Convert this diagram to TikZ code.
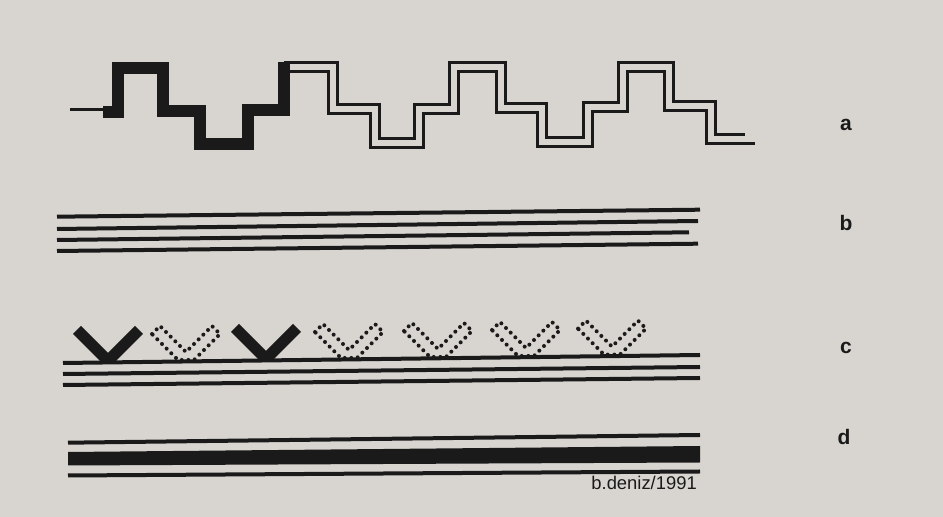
\documentclass[tikz,border=0pt]{standalone}
\usepackage{fontspec}
\newfontfamily\labfont{Liberation Sans}
\definecolor{paper}{HTML}{D8D5D0}
\definecolor{ink}{HTML}{1A1A1A}
\begin{document}
\begin{tikzpicture}[x=0.5pt,y=-0.5pt,
  thinline/.style={draw=ink,line width=2pt},
  thickline/.style={draw=ink,line width=6pt,line join=miter},
  dblline/.style={draw=ink,line width=1.7pt,double=paper,double distance=2.6pt,line join=miter},
  lab/.style={font=\labfont\bfseries\fontsize{10.5}{10.5}\selectfont,text=ink,inner sep=0pt},
  sig/.style={font=\labfont\fontsize{9.2}{9.2}\selectfont,text=ink,inner sep=0pt},
  vsolid/.pic={\fill[ink] (-35,-27)--(-27,-35)--(0,-8)--(27,-35)--(35,-27)--(8,0)--(-8,0)--cycle;},
  vdots/.pic={\draw[ink,line width=2pt,line cap=round,dash pattern=on 0pt off 3.3pt]
     (-34,-26)--(-26,-34)--(0,-8)--(26,-34)--(34,-26)--(8,0)--(-8,0)--cycle;}
]
\useasboundingbox (0,0) rectangle (943,517);
\fill[paper] (0,0) rectangle (943,517);

% ---- a : stepped band ----
\draw[dblline] (284,67) -- (333,67) -- (333,109) -- (375,109) -- (375,143) -- (419,143)
  -- (419,109) -- (454,109) -- (454,67) -- (501,67) -- (501,108) -- (542,108)
  -- (542,142) -- (588,142) -- (588,107) -- (623,107) -- (623,67) -- (669,67)
  -- (669,106) -- (711,106) -- (711,139) -- (745,139);
\draw[thinline,line width=1.7pt] (744,143.3) -- (755,143.3);
\draw[thinline,line width=1.6pt] (70,109.5) -- (104,109.5);
\draw[thickline] (103,112) -- (118,112) -- (118,68) -- (163,68) -- (163,111) -- (200,111)
  -- (200,144) -- (248,144) -- (248,110) -- (284,110) -- (284,68) -- (290,68);
\node[lab,anchor=base] (la) at (846,131) {a};

% ---- b : four lines ----
\draw[thinline] (57,216.7) -- (700,209.7);
\draw[thinline] (57,229) -- (698,221);
\draw[thinline] (57,240) -- (689,232.3);
\draw[thinline] (57,251) -- (698,243.7);
\node[lab,anchor=base] (lb) at (846,231) {b};

% ---- c : chevrons on three lines ----
\pic at (108,361) {vsolid};
\pic at (186,360) {vdots};
\pic at (266,359) {vsolid};
\pic at (349,358) {vdots};
\pic at (438,357) {vdots};
\pic at (526,356) {vdots};
\pic at (612,354.6) {vdots};
\draw[thinline] (63,363) -- (700,355);
\draw[thinline] (63,374) -- (700,367);
\draw[thinline] (63,385) -- (700,378);
\node[lab,anchor=base] (lc) at (846,354) {c};

% ---- d : band between two lines ----
\draw[thinline] (68,442.7) -- (700,435);
\fill[ink] (68,452) -- (700,446) -- (700,462.5) -- (68,465.5) -- cycle;
\draw[thinline] (68,475.5) -- (700,471.5);
\node[lab,anchor=base] (ld) at (844,445) {d};

\node[sig,anchor=base west] (sg) at (591,490) {b.deniz/1991};
\end{tikzpicture}
\end{document}
